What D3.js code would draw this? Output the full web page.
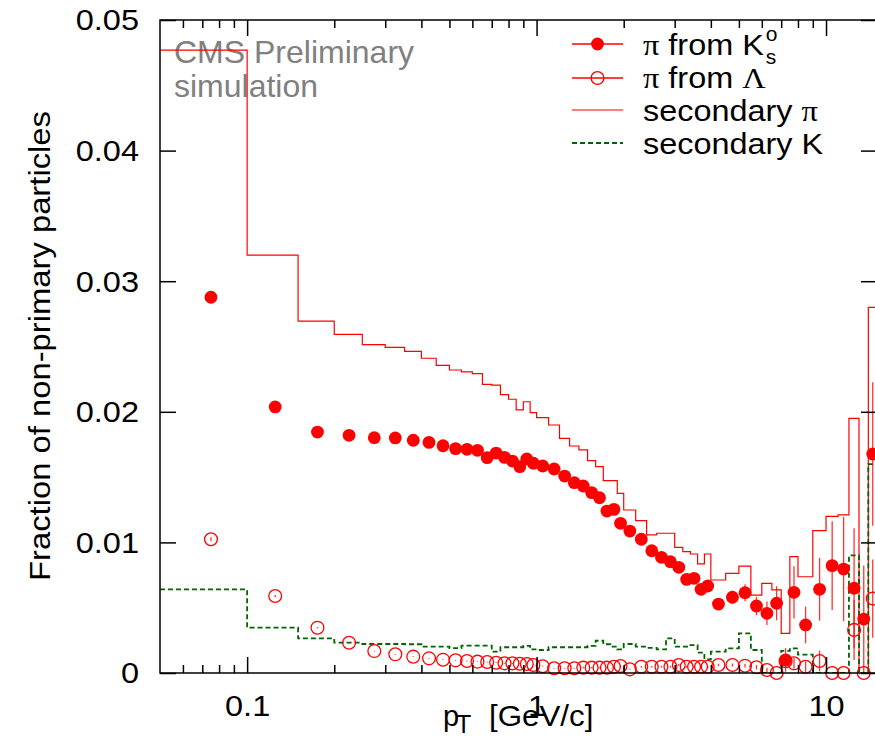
<!DOCTYPE html>
<html>
<head>
<meta charset="utf-8">
<script src="https://cdn.jsdelivr.net/npm/d3@7"></script>
<style>
  html, body { margin: 0; padding: 0; background: #fff; }
  svg { display: block; }
</style>
</head>
<body>
<script>
// ---------------- DATA ----------------
// pT bin edges [GeV/c]
const binEdges = [0.05,0.10,0.15,0.20,0.25,0.30,0.35,0.40,0.45,0.50,0.55,0.60,0.65,0.70,0.75,0.80,0.85,0.90,0.95,1.00,
  1.1,1.2,1.3,1.4,1.5,1.6,1.7,1.8,1.9,2.0,
  2.2,2.4,2.6,2.8,3.0,3.2,3.4,3.6,3.8,4.0,
  4.5,5.0,5.5,6.0,6.5,7.0,7.5,8.0,
  9,10,11,12,13,14,15];
// pT bin centres [GeV/c]
const ptCenters = [0.075,0.125,0.175,0.225,0.275,0.325,0.375,0.425,0.475,0.525,0.575,0.625,0.675,0.725,0.775,0.825,0.875,0.925,0.975,
  1.05,1.15,1.25,1.35,1.45,1.55,1.65,1.75,1.85,1.95,
  2.1,2.3,2.5,2.7,2.9,3.1,3.3,3.5,3.7,3.9,
  4.25,4.75,5.25,5.75,6.25,6.75,7.25,7.75,
  8.5,9.5,10.5,11.5,12.5,13.5,14.5];
// pi from K0s
const piFromK0s = [0.02877,0.02037,0.01845,0.01820,0.01802,0.01800,0.01782,0.01766,0.01740,0.01718,0.01713,0.01705,0.01649,0.01684,0.01651,0.01623,0.01580,0.01639,0.01606,
  0.01585,0.01562,0.01508,0.01457,0.01432,0.01381,0.01342,0.01240,0.01253,0.01146,
  0.01087,0.01024,0.00936,0.00886,0.00852,0.00809,0.00717,0.00725,0.00641,0.00666,
  0.00528,0.00580,0.00615,0.00513,0.00457,0.00534,0.00100,0.00618,
  0.00368,0.00641,0.00822,0.00796,0.00649,0.00413,0.01677];
const piFromK0sErr = [0.00010,0.00008,0.00007,0.00007,0.00007,0.00007,0.00007,0.00007,0.00007,0.00008,0.00008,0.00008,0.00008,0.00008,0.00009,0.00009,0.00009,0.00009,0.00010,
  0.00008,0.00009,0.00010,0.00010,0.00011,0.00012,0.00012,0.00013,0.00014,0.00015,
  0.00013,0.00015,0.00017,0.00019,0.00022,0.00025,0.00028,0.00032,0.00040,0.00045,
  0.00035,0.00050,0.00065,0.00070,0.00090,0.00130,0.00090,0.00200,
  0.00140,0.00240,0.00340,0.00400,0.00460,0.00410,0.00550];
// pi from Lambda
const piFromLambda = [0.01024,0.00590,0.00347,0.00232,0.00168,0.00143,0.00125,0.00112,0.00102,0.00097,0.00092,0.00087,0.00084,0.00079,0.00074,0.00074,0.00071,0.00069,0.00061,
  0.00052,0.00036,0.00036,0.00036,0.00041,0.00041,0.00041,0.00041,0.00048,0.00054,
  0.00028,0.00048,0.00048,0.00048,0.00048,0.00061,0.00048,0.00048,0.00048,0.00048,
  0.00061,0.00061,0.00056,0.00044,0.00023,0.00000,0.00090,0.00074,
  0.00048,0.00092,0.00000,0.00000,0.00330,0.00000,0.00570];
const piFromLambdaErr = [0.00015,0.00008,0.00005,0.00004,0.00003,0.00003,0.00003,0.00003,0.00003,0.00003,0.00003,0.00003,0.00003,0.00003,0.00003,0.00003,0.00003,0.00003,0.00003,
  0.00003,0.00003,0.00003,0.00003,0.00004,0.00004,0.00004,0.00004,0.00005,0.00005,
  0.00004,0.00005,0.00006,0.00006,0.00007,0.00008,0.00008,0.00009,0.00010,0.00010,
  0.00010,0.00012,0.00014,0.00016,0.00018,0.00000,0.00050,0.00040,
  0.00040,0.00080,0.00000,0.00000,0.00230,0.00000,0.00300];
// secondary pi (histogram)
const secondaryPi = [0.04770,0.03200,0.02695,0.02593,0.02514,0.02494,0.02463,0.02410,0.02356,0.02320,0.02305,0.02292,0.02210,0.02205,0.02131,0.02096,0.02014,0.02077,0.01993,
  0.01955,0.01899,0.01797,0.01738,0.01708,0.01626,0.01580,0.01473,0.01473,0.01376,
  0.01248,0.01166,0.01057,0.01070,0.01070,0.00962,0.00929,0.00911,0.00835,0.00911,
  0.00712,0.00763,0.00819,0.00597,0.00687,0.00636,0.00304,0.00891,
  0.00737,0.01090,0.01200,0.01210,0.01950,0.00000,0.02800];
// secondary K (histogram)
const secondaryK = [0.00641,0.00347,0.00265,0.00232,0.00222,0.00222,0.00220,0.00202,0.00202,0.00190,0.00209,0.00209,0.00209,0.00163,0.00197,0.00197,0.00197,0.00207,0.00181,
  0.00176,0.00197,0.00197,0.00197,0.00197,0.00207,0.00247,0.00220,0.00202,0.00181,
  0.00222,0.00202,0.00192,0.00181,0.00265,0.00202,0.00202,0.00214,0.00156,0.00105,
  0.00163,0.00189,0.00304,0.00176,0.00000,0.00000,0.00170,0.00189,
  0.00140,0.00000,0.00000,0.00000,0.00900,0.00000,0.01600];

const xMajorTicks = [0.1, 1, 10];
const xMajorLabels = ["0.1", "1", "10"];
const xMinorTicks = [0.06,0.07,0.08,0.09,0.2,0.3,0.4,0.5,0.6,0.7,0.8,0.9,2,3,4,5,6,7,8,9];
const yTicks = [0, 0.01, 0.02, 0.03, 0.04, 0.05];
const yTickLabels = ["0", "0.01", "0.02", "0.03", "0.04", "0.05"];

// ---------------- CHART ----------------
const W = 875, H = 741;
const L = 160, R = 877, T = 20, B = 673;
const FONT = '"Liberation Sans", Arial, Helvetica, sans-serif';
const SERIF = '"Liberation Serif", "Times New Roman", serif';
const RED = "#ff0000", GREEN = "#006400";

const svg = d3.select("body").append("svg").attr("width", W).attr("height", H);
svg.append("rect").attr("width", W).attr("height", H).attr("fill", "#fff");

const x = d3.scaleLog().domain([0.05, 15]).range([L, R]);
const y = d3.scaleLinear().domain([0, 0.05]).range([B, T]);

function stretch(sel, f) {
  sel.each(function () {
    const len = this.getComputedTextLength();
    if (len > 0) {
      this.setAttribute("textLength", len * f);
      this.setAttribute("lengthAdjust", "spacingAndGlyphs");
    }
  });
}

svg.append("clipPath").attr("id", "plotclip")
  .append("rect").attr("x", L).attr("y", T).attr("width", R - L).attr("height", B - T);

// CMS label
const cms = svg.append("g").attr("font-family", FONT).attr("font-size", 32).attr("fill", "#808080");
cms.append("text").attr("x", 174).attr("y", 63).text("CMS Preliminary");
cms.append("text").attr("x", 174).attr("y", 97).text("simulation");

// histograms
const plot = svg.append("g").attr("clip-path", "url(#plotclip)");
function histPts(vals) {
  const pts = vals.map((v, i) => [binEdges[i], v]);
  pts.push([binEdges[vals.length], vals[vals.length - 1]]);
  return pts;
}
const stepLine = d3.line().x(d => x(d[0])).y(d => y(d[1])).curve(d3.curveStepAfter);

plot.append("path").attr("d", stepLine(histPts(secondaryPi)))
  .attr("fill", "none").attr("stroke", RED).attr("stroke-width", 1.2);
plot.append("path").attr("d", stepLine(histPts(secondaryK)))
  .attr("fill", "none").attr("stroke", GREEN).attr("stroke-width", 1.8)
  .attr("stroke-dasharray", "5,3");

// error bars
const errG = plot.append("g").attr("stroke", RED).attr("stroke-width", 1.3).attr("stroke-opacity", 0.8);
function errBars(vals, errs) {
  errG.selectAll(null).data(vals.map((v, i) => ({ px: ptCenters[i], v, e: errs[i] })))
    .enter().append("line")
    .attr("x1", d => x(d.px)).attr("x2", d => x(d.px))
    .attr("y1", d => y(d.v - d.e)).attr("y2", d => y(d.v + d.e));
}
errBars(piFromLambda, piFromLambdaErr);
errBars(piFromK0s, piFromK0sErr);

// markers
const RAD = 6.4;
svg.append("g").selectAll("circle").data(piFromLambda.map((v, i) => [ptCenters[i], v]))
  .enter().append("circle")
  .attr("cx", d => x(d[0])).attr("cy", d => y(d[1])).attr("r", RAD)
  .attr("fill", "none").attr("stroke", RED).attr("stroke-width", 1.3);
svg.append("g").selectAll("circle").data(piFromK0s.map((v, i) => [ptCenters[i], v]))
  .enter().append("circle")
  .attr("cx", d => x(d[0])).attr("cy", d => y(d[1])).attr("r", RAD)
  .attr("fill", RED);

// axes
function styleAxis(g) {
  g.select(".domain").remove();
  g.selectAll(".tick line").attr("stroke", "#000").attr("stroke-width", 1.5);
  g.selectAll("text").attr("fill", "#000");
  g.attr("font-family", FONT).attr("font-size", 29);
}
const gxB = svg.append("g").attr("transform", `translate(0,${B})`)
  .call(d3.axisBottom(x).tickValues(xMajorTicks).tickSizeInner(-16).tickSizeOuter(0).tickPadding(22)
    .tickFormat((d, i) => xMajorLabels[i]));
styleAxis(gxB);
stretch(gxB.selectAll("text"), 1.12);
const gxBm = svg.append("g").attr("transform", `translate(0,${B})`)
  .call(d3.axisBottom(x).tickValues(xMinorTicks).tickSizeInner(-8).tickSizeOuter(0).tickFormat(""));
styleAxis(gxBm);
const gxT = svg.append("g").attr("transform", `translate(0,${T})`)
  .call(d3.axisTop(x).tickValues(xMajorTicks).tickSizeInner(-16).tickSizeOuter(0).tickFormat(""));
styleAxis(gxT);
const gxTm = svg.append("g").attr("transform", `translate(0,${T})`)
  .call(d3.axisTop(x).tickValues(xMinorTicks).tickSizeInner(-8).tickSizeOuter(0).tickFormat(""));
styleAxis(gxTm);
const gyL = svg.append("g").attr("transform", `translate(${L},0)`)
  .call(d3.axisLeft(y).tickValues(yTicks).tickSizeInner(-16).tickSizeOuter(0).tickPadding(21)
    .tickFormat((d, i) => yTickLabels[i]));
styleAxis(gyL);
gyL.selectAll("text").attr("dy", "0.34em");
stretch(gyL.selectAll("text"), 1.12);
const gyR = svg.append("g").attr("transform", `translate(${R},0)`)
  .call(d3.axisRight(y).tickValues(yTicks).tickSizeInner(-16).tickSizeOuter(0).tickFormat(""));
styleAxis(gyR);

// frame
svg.append("rect").attr("x", L).attr("y", T).attr("width", R - L).attr("height", B - T)
  .attr("fill", "none").attr("stroke", "#000").attr("stroke-width", 1.5);

// axis titles
const yt = svg.append("text").attr("transform", "translate(50,346) rotate(-90)")
  .attr("text-anchor", "middle").attr("font-family", FONT).attr("font-size", 29)
  .text("Fraction of non-primary particles");
stretch(yt, 1.13);

const xt = svg.append("g").attr("font-family", FONT).attr("fill", "#000");
xt.append("text").attr("x", 443).attr("y", 726).attr("font-size", 29).text("p");
xt.append("text").attr("x", 456).attr("y", 733).attr("font-size", 25).text("T");
const xt2 = xt.append("text").attr("x", 489).attr("y", 726).attr("font-size", 29).text("[GeV/c]");
stretch(xt2, 1.08);

// legend
const leg = svg.append("g").attr("font-family", FONT).attr("font-size", 30).attr("fill", "#000");
const legX1 = 572, legX2 = 623, legTx = 643;
const rows = [55, 88, 121, 154];
function legText(yb, parts) {
  const t = leg.append("text").attr("x", legTx).attr("y", yb);
  parts.forEach(p => {
    const s = t.append("tspan").text(p.t);
    if (p.serif) s.attr("font-family", SERIF);
  });
  stretch(t, 1.08);
  return t;
}
// row 1
leg.append("line").attr("x1", legX1).attr("x2", legX2).attr("y1", rows[0] - 11).attr("y2", rows[0] - 11)
  .attr("stroke", RED).attr("stroke-width", 1.4);
leg.append("circle").attr("cx", (legX1 + legX2) / 2).attr("cy", rows[0] - 11).attr("r", RAD).attr("fill", RED);
const t1 = legText(rows[0], [{ t: "\u03C0", serif: true }, { t: " from K" }]);
const bb1 = t1.node().getBBox();
const end1 = bb1.x + bb1.width;
leg.append("text").attr("x", end1 + 2).attr("y", rows[0] - 14).attr("font-size", 21).text("o");
leg.append("text").attr("x", end1 + 2).attr("y", rows[0] + 9).attr("font-size", 21).text("s");
// row 2
leg.append("line").attr("x1", legX1).attr("x2", legX2).attr("y1", rows[1] - 10).attr("y2", rows[1] - 10)
  .attr("stroke", RED).attr("stroke-width", 1.4);
leg.append("circle").attr("cx", (legX1 + legX2) / 2).attr("cy", rows[1] - 10).attr("r", RAD)
  .attr("fill", "none").attr("stroke", RED).attr("stroke-width", 1.3);
legText(rows[1], [{ t: "\u03C0", serif: true }, { t: " from " }, { t: "\u039B", serif: true }]);
// row 3
leg.append("line").attr("x1", legX1).attr("x2", legX2).attr("y1", rows[2] - 11).attr("y2", rows[2] - 11)
  .attr("stroke", RED).attr("stroke-width", 1.2);
legText(rows[2], [{ t: "secondary " }, { t: "\u03C0", serif: true }]);
// row 4
leg.append("line").attr("x1", legX1).attr("x2", legX2).attr("y1", rows[3] - 11).attr("y2", rows[3] - 11)
  .attr("stroke", GREEN).attr("stroke-width", 1.8).attr("stroke-dasharray", "5,3");
legText(rows[3], [{ t: "secondary K" }]);
</script>
</body>
</html>
